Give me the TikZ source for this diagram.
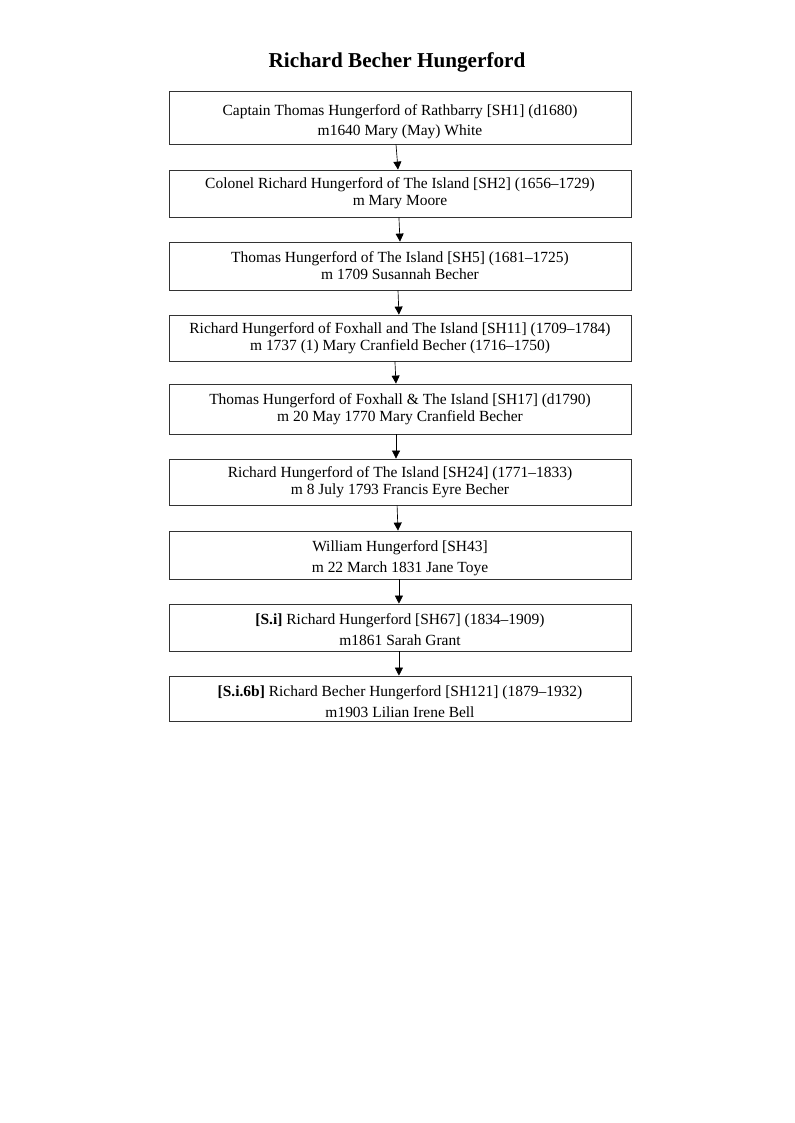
\documentclass[tikz,border=0pt]{standalone}
\usepackage{fontspec}
\setmainfont{Liberation Serif}
\usetikzlibrary{arrows.meta}
\begin{document}
\begin{tikzpicture}[x=0.75pt,y=-0.75pt,
  pbox/.style={draw=black!80,line width=0.6pt,minimum width=462*0.75pt,inner sep=0pt,align=center,
    font=\fontsize{11.6}{12.9}\selectfont},
  arr/.style={-{Triangle[length=6pt,width=6pt]},line width=0.5pt}]
\useasboundingbox (0,0) rectangle (794,1123);
\node[font=\fontsize{15.9}{18}\selectfont\bfseries] (title) at (397,62) {Richard Becher Hungerford};
\node[pbox,minimum height=53*0.75pt] (b1) at (400,117.5) {\rule{0pt}{14pt}Captain Thomas Hungerford of Rathbarry [SH1] (d1680)\\[2pt] m1640 Mary (May) White};
\node[pbox,minimum height=47*0.75pt] (b2) at (400,193.5) {Colonel Richard Hungerford of The Island [SH2] (1656–1729)\\ m Mary Moore};
\node[pbox,minimum height=48*0.75pt] (b3) at (400,266) {Thomas Hungerford of The Island [SH5] (1681–1725)\\ m 1709 Susannah Becher};
\node[pbox,minimum height=46*0.75pt] (b4) at (400,338) {Richard Hungerford of Foxhall and The Island [SH11] (1709–1784)\\ m 1737 (1) Mary Cranfield Becher (1716–1750)};
\node[pbox,minimum height=50*0.75pt] (b5) at (400,409) {Thomas Hungerford of Foxhall \& The Island [SH17] (d1790)\\ m 20 May 1770 Mary Cranfield Becher};
\node[pbox,minimum height=46*0.75pt] (b6) at (400,482) {Richard Hungerford of The Island [SH24] (1771–1833)\\ m 8 July 1793 Francis Eyre Becher};
\node[pbox,minimum height=48*0.75pt] (b7) at (400,555) {\rule{0pt}{12.5pt}William Hungerford [SH43]\\[2.8pt] m 22 March 1831 Jane Toye};
\node[pbox,minimum height=47*0.75pt] (b8) at (400,627.5) {\rule{0pt}{12pt}\textbf{[S.i]} Richard Hungerford [SH67] (1834–1909)\\[2.8pt] m1861 Sarah Grant};
\node[pbox,minimum height=45*0.75pt] (b9) at (400,698.5) {\rule{0pt}{12.5pt}\textbf{[S.i.6b]} Richard Becher Hungerford [SH121] (1879–1932)\\[2.8pt] m1903 Lilian Irene Bell};
\draw[arr] ([xshift=-3pt]b1.south) -- ([xshift=-1.5pt]b2.north);
\draw[arr] ([xshift=-0.8pt]b2.south) -- (b3.north);
\draw[arr] ([xshift=-1.5pt]b3.south) -- ([xshift=-0.8pt]b4.north);
\draw[arr] ([xshift=-3.8pt]b4.south) -- ([xshift=-3pt]b5.north);
\draw[arr] ([xshift=-3pt]b5.south) -- ([xshift=-3pt]b6.north);
\draw[arr] ([xshift=-2.2pt]b6.south) -- ([xshift=-1.5pt]b7.north);
\draw[arr] ([xshift=-0.8pt]b7.south) -- ([xshift=-0.8pt]b8.north);
\draw[arr] ([xshift=-0.8pt]b8.south) -- ([xshift=-0.8pt]b9.north);
\end{tikzpicture}
\end{document}
